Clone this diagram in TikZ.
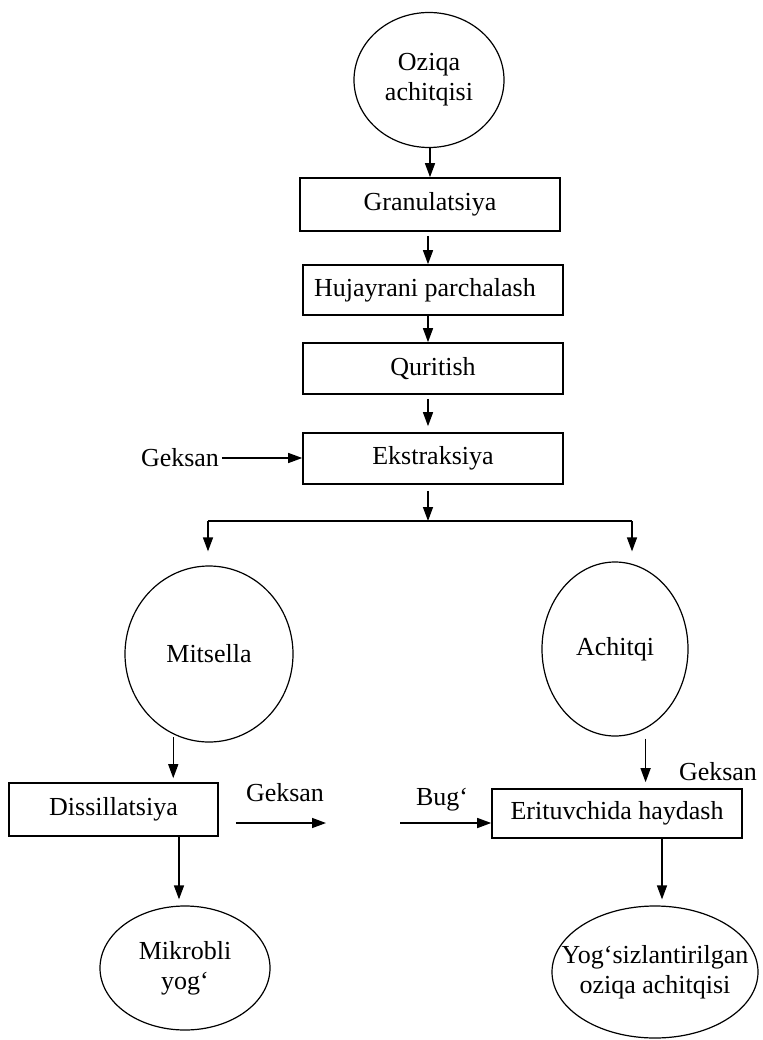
\documentclass[tikz,border=0pt]{standalone}
\usepackage{fontspec}
\setmainfont{Liberation Serif}
\usetikzlibrary{shapes.geometric,arrows.meta}

% text that should not widen its ellipse
\newcommand{\nw}[1]{\makebox[0pt]{#1}}

\begin{document}
\begin{tikzpicture}[x=1pt, y=-1pt, line width=1.6pt,
		font=\fontsize{26}{30}\selectfont,
		box/.style={draw, rectangle, inner sep=0pt},
		oval/.style={draw, ellipse, inner sep=0pt, align=center, line width=1.2pt},
		lbl/.style={inner sep=2pt},
		arr/.style={line width=1.4pt, -{Triangle[length=14pt,width=10pt]}}]
	\useasboundingbox (0,0) rectangle (762,1040);
	% main line
	\node[oval, minimum width=150pt, minimum height=135pt] (feed) at (429,80) {Oziqa\\achitqisi};
	\node[box, minimum width=260pt, minimum height=53pt] (gran) at (430,204.5) {Granulatsiya};
	\node[box, minimum width=260pt, minimum height=50pt] (cell) at (433,290) {\hspace{-16pt}Hujayrani parchalash};
	\node[box, minimum width=260pt, minimum height=51pt] (dry) at (433,368.5) {Quritish};
	\node[box, minimum width=260pt, minimum height=51pt] (extr) at (433,458.5) {Ekstraksiya};
	\node[lbl] (hexin) at (180,458) {Geksan};
	% two branches
	\coordinate (split) at (428,521);
	\coordinate (sl) at (208,521);
	\coordinate (sr) at (632,521);
	\node[oval, minimum width=168pt, minimum height=176pt] (mits) at (209,654) {\nw{Mitsella}};
	\node[oval, minimum width=146pt, minimum height=174pt] (yeast) at (615,649) {\nw{Achitqi}};
	\node[box, minimum width=209pt, minimum height=53pt] (dist) at (113.5,809.5) {Dissillatsiya};
	\node[box, minimum width=250pt, minimum height=49pt] (strip) at (617,813.5) {Erituvchida haydash};
	\node[lbl] (hexout) at (285,793) {Geksan};
	\node[lbl] (steam) at (442,800) {Bug‘};
	\node[lbl] (hexback) at (718,772) {Geksan};
	\coordinate (hexend) at (326,823);
	\coordinate (steamin) at (400,823);
	\node[oval, minimum width=170pt, minimum height=124pt] (oil) at (185,968) {\nw{Mikrobli}\\\nw{yog‘}};
	\node[oval, minimum width=206pt, minimum height=132pt] (defat) at (655,972) {\nw{Yog‘sizlantirilgan}\\\nw{oziqa achitqisi}};

	\draw[arr] (feed.south -| gran.north) -- (gran.north);
	\draw[arr, shorten <=4pt] (gran.south -| split) -- (split |- cell.north);
	\draw[arr] (cell.south -| split) -- (split |- dry.north);
	\draw[arr, shorten <=4pt, shorten >=6pt] (dry.south -| split) -- (split |- extr.north);
	\draw[arr, shorten <=6pt] (extr.south -| split) -- (split);
	\draw[arr] (hexin.east) -- (hexin.east -| extr.west);
	\draw (sl) -- (sr);
	\draw[arr, shorten >=14pt] (sl) -- (sl |- mits.north);
	\draw[arr, shorten >=10pt] (sr) -- (sr |- yeast.north);

	\draw[arr, shorten <=3pt, shorten >=4pt] (mits.-114) -- (mits.-114 |- dist.north);
	\draw[arr, shorten <=10pt, shorten >=6pt] (yeast.-69) -- (yeast.-69 |- strip.north);
	\draw[arr, shorten <=17pt] (dist.east |- hexend) -- (hexend);
	\draw[arr] (steamin) -- (steamin -| strip.west);
	\draw[arr, shorten >=6pt] ([xshift=-6pt]oil.north |- dist.south) -- ([xshift=-6pt]oil.north);
	\draw[arr, shorten >=6pt] ([xshift=7pt]defat.north |- strip.south) -- ([xshift=7pt]defat.north);
\end{tikzpicture}
\end{document}
